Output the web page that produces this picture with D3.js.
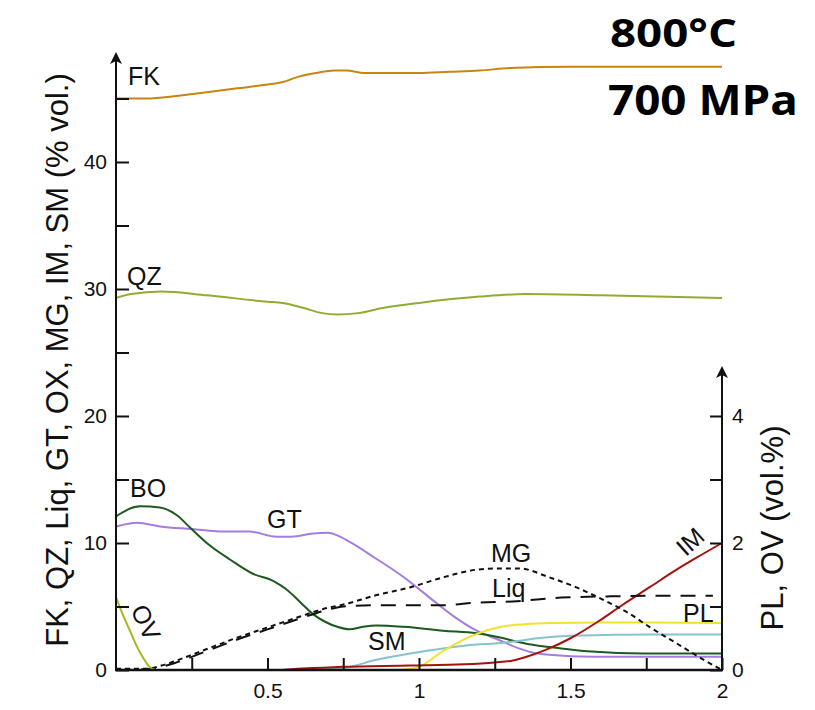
<!DOCTYPE html>
<html><head><meta charset="utf-8">
<script src="https://cdn.jsdelivr.net/npm/d3@7"></script>
<style>
html,body{margin:0;padding:0;background:#fff;}
svg{display:block;}
text{font-family:"Liberation Sans",Arial,sans-serif;}
</style></head>
<body>
<svg id="chart" width="815" height="710"></svg>
<script>
// ---- data (x = index 0..2; left-axis series in % vol., right-axis series PL & OV) ----
const xTickValues = [0.25, 0.5, 0.75, 1, 1.25, 1.5, 1.75, 2];
const xTickLabels = ["", "0.5", "", "1", "", "1.5", "", "2"];
const leftTickValues = [0, 5, 10, 15, 20, 25, 30, 35, 40, 45];
const leftTickLabels = ["0", "", "10", "", "20", "", "30", "", "40", ""];
const rightTickValues = [0, 1, 2, 3, 4];
const rightTickLabels = ["0", "", "2", "", "4"];

const fkX = [0, 0.1, 0.2, 0.3, 0.4, 0.5, 0.55, 0.6, 0.66, 0.72, 0.76, 0.82, 0.9, 1.0, 1.1, 1.2, 1.3, 1.5, 1.7, 2.0];
const fkY = [45.0, 45.0, 45.2, 45.5, 45.8, 46.1, 46.3, 46.7, 47.0, 47.2, 47.2, 47.0, 47.0, 47.0, 47.1, 47.2, 47.4, 47.5, 47.5, 47.5];

const qzX = [0, 0.05, 0.15, 0.3, 0.5, 0.55, 0.62, 0.68, 0.73, 0.8, 0.88, 1.0, 1.2, 1.35, 1.6, 2.0];
const qzY = [29.3, 29.6, 29.8, 29.5, 29.0, 28.9, 28.5, 28.1, 28.0, 28.1, 28.5, 28.9, 29.4, 29.6, 29.5, 29.3];

const boX = [0, 0.08, 0.145, 0.2, 0.245, 0.31, 0.376, 0.45, 0.52, 0.565, 0.61, 0.65, 0.69, 0.73, 0.77, 0.815, 0.86, 0.95, 1.08, 1.19, 1.26, 1.33, 1.37, 1.47, 1.57, 1.74, 2.0];
const boY = [12.1, 12.9, 12.8, 12.2, 11.2, 9.8, 8.7, 7.6, 7.0, 6.3, 5.3, 4.4, 3.8, 3.4, 3.2, 3.4, 3.5, 3.4, 3.1, 2.9, 2.6, 2.2, 2.0, 1.7, 1.45, 1.3, 1.3];

const gtX = [0, 0.07, 0.145, 0.25, 0.36, 0.44, 0.53, 0.58, 0.65, 0.7, 0.73, 0.77, 0.85, 0.95, 1.03, 1.11, 1.19, 1.26, 1.33, 1.37, 1.43, 1.57, 2.0];
const gtY = [11.3, 11.6, 11.3, 11.1, 10.9, 10.9, 10.5, 10.5, 10.75, 10.8, 10.6, 10.1, 8.9, 7.3, 5.8, 4.3, 3.1, 2.4, 1.7, 1.4, 1.2, 1.05, 1.05];

const mgX = [0, 0.1, 0.15, 0.2, 0.3, 0.4, 0.5, 0.6, 0.7, 0.75, 0.86, 0.97, 1.08, 1.19, 1.26, 1.33, 1.43, 1.52, 1.61, 1.69, 1.76, 1.85, 1.94, 2.0];
const mgY = [0.1, 0.1, 0.35, 0.75, 1.65, 2.55, 3.35, 4.15, 4.9, 5.15, 5.9, 6.5, 7.3, 7.9, 8.0, 8.0, 7.3, 6.5, 5.5, 4.5, 3.4, 2.1, 0.8, 0.0];

const liqX = [0, 0.1, 0.15, 0.2, 0.3, 0.4, 0.5, 0.6, 0.7, 0.75, 0.86, 0.97, 1.08, 1.19, 1.31, 1.47, 1.63, 1.8, 1.97];
const liqY = [0.0, 0.05, 0.25, 0.6, 1.5, 2.4, 3.2, 4.0, 4.75, 5.0, 5.1, 5.1, 5.1, 5.3, 5.4, 5.7, 5.8, 5.85, 5.85];

const smX = [0.65, 0.75, 0.86, 0.97, 1.08, 1.19, 1.26, 1.33, 1.39, 1.5, 1.61, 1.76, 2.0];
const smY = [0.0, 0.15, 0.8, 1.3, 1.7, 2.0, 2.1, 2.3, 2.5, 2.7, 2.75, 2.8, 2.8];

const imX = [0.55, 0.6, 0.65, 0.75, 0.97, 1.15, 1.25, 1.31, 1.35, 1.42, 1.5, 1.59, 1.67, 1.76, 1.85, 1.92, 2.0];
const imY = [0.0, 0.1, 0.15, 0.25, 0.35, 0.45, 0.6, 0.75, 1.0, 1.6, 2.5, 3.8, 5.1, 6.5, 7.9, 8.9, 10.0];

const plX = [0.94, 1.0, 1.08, 1.18, 1.27, 1.35, 1.45, 1.6, 1.75, 2.0];
const plY = [0.0, 0.05, 0.3, 0.55, 0.68, 0.72, 0.74, 0.75, 0.75, 0.74];

const ovX = [0, 0.02, 0.045, 0.07, 0.09, 0.11, 0.13];
const ovY = [1.15, 0.9, 0.63, 0.36, 0.19, 0.05, 0.0];

// ---- drawing ----
const svg = d3.select("#chart");
const x = d3.scaleLinear().domain([0, 2]).range([116, 722]);
const yL = d3.scaleLinear().domain([0, 40]).range([670, 162]);
const yR = d3.scaleLinear().domain([0, 4]).range([670, 416]);

const series = [
  {xs: fkX, ys: fkY, s: yL, color: "#c7860f"},
  {xs: qzX, ys: qzY, s: yL, color: "#90ad30"},
  {xs: gtX, ys: gtY, s: yL, color: "#a47ddf"},
  {xs: boX, ys: boY, s: yL, color: "#1c5a1e"},
  {xs: smX, ys: smY, s: yL, color: "#86c2cf"},
  {xs: plX, ys: plY, s: yR, color: "#f2e12e"},
  {xs: imX, ys: imY, s: yL, color: "#a3140f"},
  {xs: mgX, ys: mgY, s: yL, color: "#111", dash: "5,4"},
  {xs: liqX, ys: liqY, s: yL, color: "#111", dash: "15,10"},
  {xs: ovX, ys: ovY, s: yR, color: "#a6b81e"}
];

series.forEach(d => {
  const pts = d.xs.map((v, i) => [v, d.ys[i]]);
  const line = d3.line().x(p => x(p[0])).y(p => d.s(p[1])).curve(d3.curveMonotoneX);
  svg.append("path").attr("d", line(pts)).attr("fill", "none")
    .attr("stroke", d.color).attr("stroke-width", 2)
    .attr("stroke-dasharray", d.dash || null);
});

// axes
const fmt = (vals, labels) => v => labels[vals.indexOf(v)];
const gl = svg.append("g").attr("transform", "translate(116,0)")
  .call(d3.axisLeft(yL).tickValues(leftTickValues).tickFormat(fmt(leftTickValues, leftTickLabels))
    .tickSizeInner(-13).tickSizeOuter(0).tickPadding(9));
const gb = svg.append("g").attr("transform", "translate(0,670)")
  .call(d3.axisBottom(x).tickValues(xTickValues).tickFormat(fmt(xTickValues, xTickLabels))
    .tickSizeInner(-12).tickSizeOuter(0).tickPadding(13));
const gr = svg.append("g").attr("transform", "translate(722,0)")
  .call(d3.axisRight(yR).tickValues(rightTickValues).tickFormat(fmt(rightTickValues, rightTickLabels))
    .tickSizeInner(-12).tickSizeOuter(0).tickPadding(10));
[gl, gb, gr].forEach(g => {
  g.select(".domain").remove();
  g.selectAll(".tick line").attr("stroke", "#111").attr("stroke-width", 2);
  g.selectAll(".tick text").attr("font-size", 21).attr("fill", "#111")
    .style("font-family", "'Liberation Sans', Arial, sans-serif");
});

// axis lines with arrows
svg.append("line").attr("x1", 116).attr("y1", 671).attr("x2", 116).attr("y2", 58).attr("stroke", "#111").attr("stroke-width", 2);
svg.append("line").attr("x1", 115).attr("y1", 670).attr("x2", 723).attr("y2", 670).attr("stroke", "#111").attr("stroke-width", 2.5);
svg.append("line").attr("x1", 722).attr("y1", 671).attr("x2", 722).attr("y2", 372).attr("stroke", "#111").attr("stroke-width", 2);
svg.append("path").attr("d", "M116,52 L110,64 L116,61 L122,64 Z").attr("fill", "#111");
svg.append("path").attr("d", "M722,366 L716,378 L722,375 L728,378 Z").attr("fill", "#111");

// axis titles
svg.append("text").attr("transform", "translate(68,360) rotate(-90)")
  .attr("text-anchor", "middle").attr("font-size", 31).attr("fill", "#111")
  .text("FK, QZ, Liq, GT, OX, MG, IM, SM (% vol.)");
svg.append("text").attr("transform", "translate(783,528) rotate(-90)")
  .attr("text-anchor", "middle").attr("font-size", 31).attr("fill", "#111")
  .text("PL, OV (vol.%)");

// curve labels
const labels = [
  {t: "FK", x: 128, y: 85}, {t: "QZ", x: 127, y: 285}, {t: "BO", x: 130, y: 497},
  {t: "GT", x: 267, y: 528}, {t: "SM", x: 368, y: 650}, {t: "MG", x: 491, y: 562},
  {t: "Liq", x: 492, y: 597}, {t: "PL", x: 683, y: 622}
];
labels.forEach(l => svg.append("text").attr("x", l.x).attr("y", l.y)
  .attr("font-size", 25).attr("fill", "#111").text(l.t));
svg.append("text").attr("transform", "translate(696,548) rotate(-42)")
  .attr("text-anchor", "middle").attr("font-size", 25).attr("fill", "#111").text("IM");
svg.append("text").attr("transform", "translate(138,626) rotate(65)")
  .attr("text-anchor", "middle").attr("font-size", 25).attr("fill", "#111").text("OV");

// title
svg.append("text").attr("x", 610).attr("y", 47).attr("font-size", 39).attr("font-weight", 700)
  .style("font-family", "'Open Sans', sans-serif").attr("textLength", 127).attr("lengthAdjust", "spacingAndGlyphs")
  .attr("fill", "#000").text("800°C");
svg.append("text").attr("x", 608).attr("y", 115).attr("font-size", 41).attr("font-weight", 700)
  .style("font-family", "'Open Sans', sans-serif").attr("textLength", 190).attr("lengthAdjust", "spacingAndGlyphs")
  .attr("fill", "#000").text("700 MPa");
</script>
</body></html>
